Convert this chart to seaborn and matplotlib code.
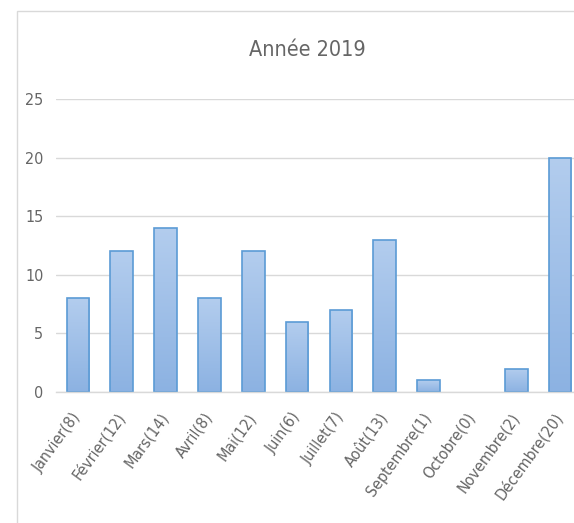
import matplotlib
matplotlib.use("Agg")
import matplotlib.pyplot as plt
import seaborn as sns
import pandas as pd
import numpy as np
from matplotlib.patches import Rectangle
from matplotlib.colors import LinearSegmentedColormap

months = ["Janvier(8)", "Février(12)", "Mars(14)", "Avril(8)", "Mai(12)", "Juin(6)",
          "Juillet(7)", "Août(13)", "Septembre(1)", "Octobre(0)", "Novembre(2)", "Décembre(20)"]
values = [8, 12, 14, 8, 12, 6, 7, 13, 1, 0, 2, 20]
yticks = [0, 5, 10, 15, 20, 25]

df = pd.DataFrame({"mois": months, "valeur": values})

sns.set_theme(style="white")
plt.rcParams['font.family'] = ['DejaVu Sans']
plt.rcParams['font.stretch'] = 'condensed'

fig = plt.figure(figsize=(5.74, 5.23), dpi=100)
W, H = 574, 523
ax = fig.add_axes([56 / W, 1 - 392 / H, (582 - 56) / W, (392 - 99) / H])

sns.barplot(data=df, x="mois", y="valeur", ax=ax, color="#a3c1e8",
            edgecolor="#5b9bd5", linewidth=1.2, width=0.52, saturation=1)

ax.set_xlim(-0.5, 11.5)
ax.set_ylim(0, 25)

# gradient fill inside each bar
cmap = LinearSegmentedColormap.from_list("g", ["#8cb2e2", "#b3cdee"])
grad = np.linspace(0, 1, 256).reshape(-1, 1)
for p in ax.patches:
    h = p.get_height()
    if h <= 0:
        p.set_linewidth(0)
        continue
    x0 = p.get_x()
    w = p.get_width()
    im = ax.imshow(grad, cmap=cmap, origin="lower", aspect="auto",
                   extent=(x0, x0 + w, 0, h), zorder=p.get_zorder() - 0.01)
    im.set_clip_path(p)
    p.set_facecolor("none")
ax.set_xlim(-0.5, 11.5)
ax.set_ylim(0, 25)

ax.set_yticks(yticks)
ax.set_yticklabels([str(t) for t in yticks], color="#666666", fontsize=11.5,
                   fontstretch="condensed")
ax.yaxis.grid(True, color="#d9d9d9", linewidth=1)
ax.set_axisbelow(True)
for s in ["top", "right", "left"]:
    ax.spines[s].set_visible(False)
ax.spines["bottom"].set_color("#d9d9d9")
ax.spines["bottom"].set_linewidth(1)
ax.tick_params(axis="y", length=0, pad=9)
ax.tick_params(axis="x", length=0, pad=16)
ax.set_xlabel("")
ax.set_ylabel("")
ax.set_xticks(range(len(months)))
ax.set_xticklabels(months, rotation=54, ha="right", va="center", rotation_mode="anchor",
                   color="#666666", fontsize=11.5, fontstretch="condensed")

fig.text(307 / W, 1 - 50 / H, "Année 2019", ha="center", va="center",
         fontsize=15.5, color="#666666", fontstretch="condensed")

fig.patches.append(Rectangle((17 / W, -0.1), 1.2, 1 - 11 / H + 0.1,
                             transform=fig.transFigure, fill=False,
                             edgecolor="#d9d9d9", linewidth=1))

fig.savefig("out.png", dpi=100)
